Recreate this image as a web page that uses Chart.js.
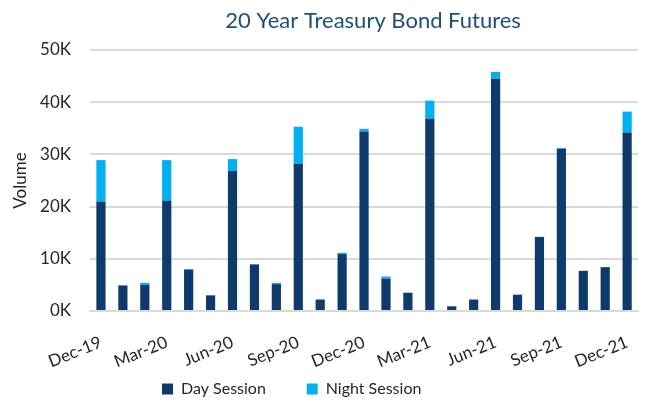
<!DOCTYPE html>
<html>
<head>
<meta charset="utf-8">
<script src="https://cdn.jsdelivr.net/npm/chart.js@4"></script>
<style>
  html, body { margin: 0; padding: 0; background: #fff; }
  #wrap { width: 656px; height: 403px; }
</style>
</head>
<body>
<div id="wrap"><canvas id="bondChart" width="656" height="403"></canvas></div>
<script>
const months = ['Dec-19','Jan-20','Feb-20','Mar-20','Apr-20','May-20','Jun-20','Jul-20','Aug-20','Sep-20','Oct-20','Nov-20',
  'Dec-20','Jan-21','Feb-21','Mar-21','Apr-21','May-21','Jun-21','Jul-21','Aug-21','Sep-21','Oct-21','Nov-21','Dec-21'];
const daySession = [21000, 4900, 5000, 21100, 7900, 3000, 26800, 8900, 5150, 28200, 2200, 10900,
  34400, 6200, 3500, 36900, 900, 2200, 44500, 3100, 14200, 31050, 7700, 8400, 34200];
const nightSession = [7900, 0, 400, 7800, 150, 0, 2300, 100, 250, 7100, 0, 250,
  500, 400, 0, 3400, 0, 0, 1300, 50, 0, 200, 0, 0, 4000];
const yTicks = [0, 10000, 20000, 30000, 40000, 50000];
const chartTitle = '20 Year Treasury Bond Futures';

const font = "Lato, 'Open Sans', sans-serif";
const textColor = '#262626';

// title centred over the plot area, like the Excel original
const plotTitle = {
  id: 'plotTitle',
  afterDraw(chart) {
    const {ctx, chartArea} = chart;
    ctx.save();
    ctx.font = '22px ' + font;
    ctx.fillStyle = '#1f4e79';
    ctx.textAlign = 'center';
    ctx.textBaseline = 'alphabetic';
    ctx.fillText(chartTitle, (chartArea.left + chartArea.right) / 2 + 9, 28);
    ctx.restore();
  }
};

// pad legend texts so the two entries sit apart like the original
const legendPad = [9, 17];

new Chart(document.getElementById('bondChart'), {
  type: 'bar',
  data: {
    labels: months,
    datasets: [
      {label: 'Day Session', data: daySession, backgroundColor: '#0f3b6c', barPercentage: 0.42, categoryPercentage: 1},
      {label: 'Night Session', data: nightSession, backgroundColor: '#00b0f0', barPercentage: 0.42, categoryPercentage: 1}
    ]
  },
  plugins: [plotTitle],
  options: {
    responsive: false,
    animation: false,
    layout: {padding: {left: 8, right: 11, top: 50, bottom: -4}},
    plugins: {
      legend: {
        position: 'bottom',
        labels: {
          color: textColor,
          font: {family: font, size: 16},
          boxWidth: 11, boxHeight: 11,
          padding: 4,
          generateLabels: chart => Chart.defaults.plugins.legend.labels.generateLabels(chart)
            .map((l, i) => Object.assign(l, {text: l.text + ' '.repeat(legendPad[i])}))
        }
      },
      tooltip: {enabled: false}
    },
    scales: {
      x: {
        stacked: true,
        grid: {display: false, drawTicks: false},
        border: {color: '#d9d9d9', width: 2},
        afterFit: s => { s.height = 66; },
        ticks: {
          autoSkip: false,
          maxRotation: 22, minRotation: 22,
          color: textColor,
          font: {family: font, size: 17},
          padding: 21,
          callback: (v, i) => i % 3 === 0 ? months[i] : ''
        }
      },
      y: {
        stacked: true,
        min: 0, max: 50000,
        afterBuildTicks: s => { s.ticks = yTicks.map(v => ({value: v})); },
        afterFit: s => { s.width = 82; },
        grid: {color: '#d9d9d9', lineWidth: 2, drawTicks: false},
        border: {display: false},
        title: {display: true, text: 'Volume', color: textColor, font: {family: font, size: 17}, padding: 2},
        ticks: {
          color: textColor,
          font: {family: font, size: 17},
          padding: 19,
          callback: v => (v / 1000) + 'K'
        }
      }
    }
  }
});
</script>
</body>
</html>
